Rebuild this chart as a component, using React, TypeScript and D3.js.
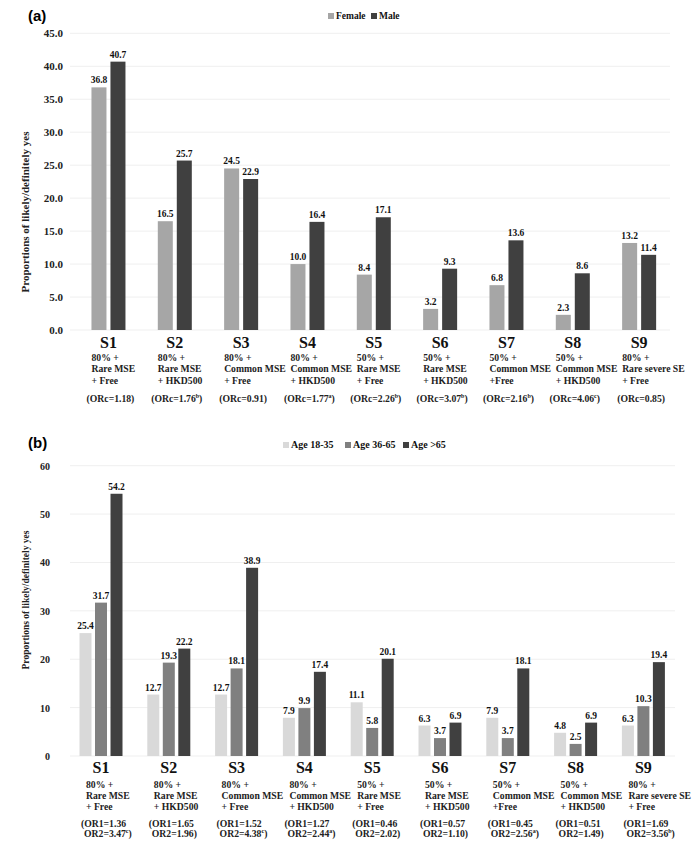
import React from "react";
import * as d3 from "d3";

const categories = ["S1", "S2", "S3", "S4", "S5", "S6", "S7", "S8", "S9"];
const scenarioLine1 = ["80% +", "80% +", "80% +", "80% +", "50% +", "50% +", "50% +", "50% +", "80% +"];
const scenarioLine2 = ["Rare MSE", "Rare MSE", "Common MSE", "Common MSE", "Rare MSE", "Rare MSE", "Common MSE", "Common MSE", "Rare severe SE"];
const scenarioLine3 = ["+ Free", "+ HKD500", "+ Free", "+ HKD500", "+ Free", "+ HKD500", "+Free", "+ HKD500", "+ Free"];

// Panel (a): gender
const genderSeries = ["Female", "Male"];
const femaleValues = [36.8, 16.5, 24.5, 10.0, 8.4, 3.2, 6.8, 2.3, 13.2];
const maleValues = [40.7, 25.7, 22.9, 16.4, 17.1, 9.3, 13.6, 8.6, 11.4];
const orcValues = ["1.18", "1.76", "0.91", "1.77", "2.26", "3.07", "2.16", "4.06", "0.85"];
const orcSup = ["", "b", "", "a", "b", "b", "b", "c", ""];
const aTicks = [0, 5, 10, 15, 20, 25, 30, 35, 40, 45];

// Panel (b): age
const ageSeries = ["Age 18-35", "Age 36-65", "Age >65"];
const age1835 = [25.4, 12.7, 12.7, 7.9, 11.1, 6.3, 7.9, 4.8, 6.3];
const age3665 = [31.7, 19.3, 18.1, 9.9, 5.8, 3.7, 3.7, 2.5, 10.3];
const age65 = [54.2, 22.2, 38.9, 17.4, 20.1, 6.9, 18.1, 6.9, 19.4];
const or1Values = ["1.36", "1.65", "1.52", "1.27", "0.46", "0.57", "0.45", "0.51", "1.69"];
const or2Values = ["3.47", "1.96", "4.38", "2.44", "2.02", "1.10", "2.56", "1.49", "3.56"];
const or2Sup = ["c", "", "c", "a", "", "", "a", "", "b"];
const bTicks = [0, 10, 20, 30, 40, 50, 60];

const SERIF = "'Liberation Serif', 'Times New Roman', serif";
const SANS = "'Liberation Sans', Arial, sans-serif";

type PanelProps = {
  letter: string;
  letterY: number;
  series: string[];
  values: number[][];
  colors: string[];
  ticks: number[];
  tickFmt: (v: number) => string;
  tickFontSize: number;
  tickRight: number;
  yDomain: [number, number];
  yRange: [number, number];
  xRange: [number, number];
  gridX: [number, number];
  groupWidth: number;
  barPad: number;
  titleCenterY: number;
  titleSize: number;
  legendX: number[];
  legendY: number;
  legendSize: number;
  catY: number;
  subY: number;
  bottomLines: (i: number, cx: number) => React.ReactNode;
  subOffsets: number;
};

function Panel(p: PanelProps) {
  const x0 = d3.scaleBand<string>().domain(categories).range(p.xRange).padding(0);
  const y = d3.scaleLinear().domain(p.yDomain).range(p.yRange);
  const half = p.groupWidth / 2;
  return (
    <g>
      <text x={28} y={p.letterY} fontFamily={SANS} fontWeight="bold" fontSize={15} fill="#000">
        {p.letter}
      </text>
      {p.ticks.map((t) => (
        <g key={t}>
          <line x1={p.gridX[0]} x2={p.gridX[1]} y1={y(t)} y2={y(t)} stroke="#efefef" strokeWidth={1} />
          <text x={p.tickRight} y={y(t) + 4} textAnchor="end" fontFamily={SERIF} fontWeight="bold" fontSize={p.tickFontSize} fill="#222">
            {p.tickFmt(t)}
          </text>
        </g>
      ))}
      <text
        transform={`translate(29,${p.titleCenterY}) rotate(-90)`}
        textAnchor="middle"
        fontFamily={SERIF}
        fontWeight="bold"
        fontSize={p.titleSize}
        fill="#222"
      >
        Proportions of likely/definitely yes
      </text>
      {p.series.map((s, k) => (
        <g key={s}>
          <rect x={p.legendX[k]} y={p.legendY - 6} width={6} height={6} fill={p.colors[k]} />
          <text x={p.legendX[k] + 8} y={p.legendY} fontFamily={SERIF} fontWeight="bold" fontSize={p.legendSize} fill="#111">
            {s}
          </text>
        </g>
      ))}
      {categories.map((c, i) => {
        const cx = (x0(c) as number) + x0.bandwidth() / 2;
        const x1 = d3
          .scaleBand<string>()
          .domain(p.series)
          .range([cx - half, cx + half])
          .paddingInner(p.barPad);
        return (
          <g key={c}>
            {p.series.map((s, k) => {
              const v = p.values[k][i];
              const bx = x1(s) as number;
              return (
                <g key={s}>
                  <rect x={bx} y={y(v)} width={x1.bandwidth()} height={y(0) - y(v)} fill={p.colors[k]} />
                  <text x={bx + x1.bandwidth() / 2} y={y(v) - 4} textAnchor="middle" fontFamily={SERIF} fontWeight="bold" fontSize={9.5} fill="#111">
                    {v.toFixed(1)}
                  </text>
                </g>
              );
            })}
            <text x={cx} y={p.catY} textAnchor="middle" fontFamily={SERIF} fontWeight="bold" fontSize={16} fill="#111">
              {c}
            </text>
            {[scenarioLine1[i], scenarioLine2[i], scenarioLine3[i]].map((l, j) => (
              <text key={j} x={cx + p.subOffsets} y={p.subY + j * 11.3} fontFamily={SERIF} fontWeight="bold" fontSize={9.7} fill="#222">
                {l}
              </text>
            ))}
            {p.bottomLines(i, cx)}
          </g>
        );
      })}
    </g>
  );
}

function Sup({ s }: { s: string }) {
  if (!s) return <tspan>)</tspan>;
  return (
    <>
      <tspan fontSize={6} dy={-4}>
        {s}
      </tspan>
      <tspan dy={4}>)</tspan>
    </>
  );
}

export default function App() {
  return (
    <svg
      width={696}
      height={845}
      viewBox="0 0 696 845"
      style={{ position: "absolute", left: 0, top: 0, background: "#fff" }}
    >
      <rect x={0} y={0} width={696} height={845} fill="#fff" />
      <Panel
        letter="(a)"
        letterY={21}
        series={genderSeries}
        values={[femaleValues, maleValues]}
        colors={["#a6a6a6", "#404040"]}
        ticks={aTicks}
        tickFmt={(v) => v.toFixed(1)}
        tickFontSize={11}
        tickRight={63}
        yDomain={[0, 45]}
        yRange={[330, 33.3]}
        xRange={[75.3, 672.3]}
        gridX={[70, 670]}
        groupWidth={34}
        barPad={0.21}
        titleCenterY={212}
        titleSize={11}
        legendX={[328, 371]}
        legendY={19}
        legendSize={9.5}
        catY={348}
        subY={361}
        subOffsets={-17}
        bottomLines={(i, cx) => (
          <text x={cx + 2} y={402} textAnchor="middle" fontFamily={SERIF} fontWeight="bold" fontSize={9.7} fill="#222">
            {`(ORc=${orcValues[i]}`}
            <Sup s={orcSup[i]} />
          </text>
        )}
      />
      <Panel
        letter="(b)"
        letterY={448}
        series={ageSeries}
        values={[age1835, age3665, age65]}
        colors={["#d9d9d9", "#808080", "#404040"]}
        ticks={bTicks}
        tickFmt={(v) => String(v)}
        tickFontSize={10}
        tickRight={50}
        yDomain={[0, 60]}
        yRange={[756, 465.7]}
        xRange={[67.1, 677.3]}
        gridX={[70, 675]}
        groupWidth={43}
        barPad={0.226}
        titleCenterY={600}
        titleSize={9.5}
        legendX={[283, 345, 403]}
        legendY={448}
        legendSize={10}
        catY={773}
        subY={787.5}
        subOffsets={-15}
        bottomLines={(i, cx) => (
          <g>
            <text x={cx - 20} y={826.5} fontFamily={SERIF} fontWeight="bold" fontSize={9.7} fill="#222">
              {`(OR1=${or1Values[i]}`}
            </text>
            <text x={cx - 17} y={837} fontFamily={SERIF} fontWeight="bold" fontSize={9.7} fill="#222">
              {`OR2=${or2Values[i]}`}
              <Sup s={or2Sup[i]} />
            </text>
          </g>
        )}
      />
    </svg>
  );
}
